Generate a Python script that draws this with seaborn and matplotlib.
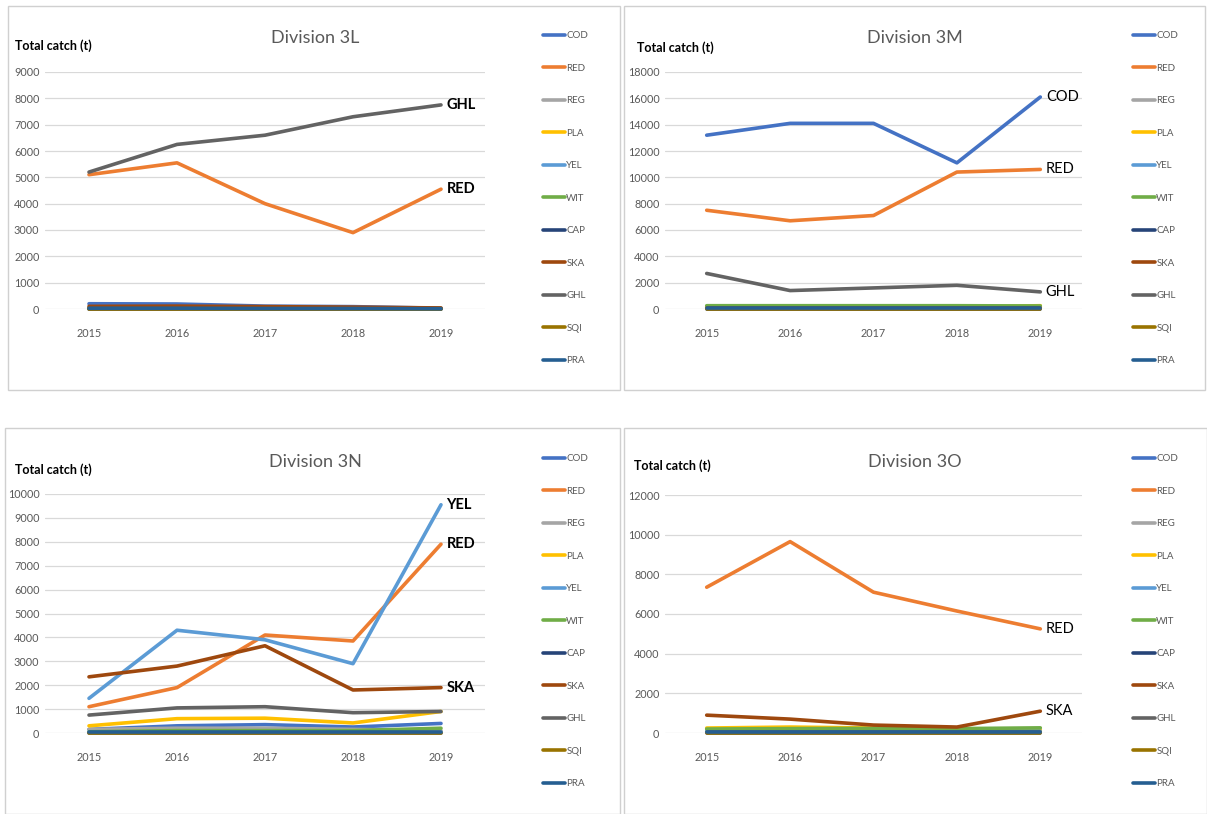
import numpy as np
import pandas as pd
import seaborn as sns
import matplotlib.pyplot as plt
from matplotlib.patches import Rectangle

# Years and species codes
years = [2015, 2016, 2017, 2018, 2019]
species = ['COD', 'RED', 'REG', 'PLA', 'YEL', 'WIT', 'CAP', 'SKA', 'GHL', 'SQI', 'PRA']
colors = ['#4472C4', '#ED7D31', '#A5A5A5', '#FFC000', '#5B9BD5', '#70AD47',
          '#264478', '#9E480E', '#636363', '#997300', '#255E91']

# Total catch (t) per division, rows follow species order
catch_3L = [
    [200, 190, 110, 90, 30],        # COD
    [5100, 5550, 4000, 2900, 4550],  # RED
    [20, 20, 15, 15, 10],           # REG
    [30, 30, 20, 20, 10],           # PLA
    [10, 10, 10, 10, 5],            # YEL
    [40, 40, 30, 30, 20],           # WIT
    [0, 0, 0, 0, 0],                # CAP
    [100, 110, 90, 70, 40],         # SKA
    [5200, 6250, 6600, 7300, 7750],  # GHL
    [0, 0, 0, 0, 0],                # SQI
    [30, 30, 20, 20, 10],           # PRA
]
catch_3M = [
    [13200, 14100, 14100, 11100, 16100],
    [7500, 6700, 7100, 10400, 10600],
    [100, 100, 100, 100, 150],
    [150, 150, 150, 150, 250],
    [10, 10, 10, 10, 10],
    [250, 250, 250, 250, 230],
    [0, 0, 0, 0, 0],
    [50, 50, 50, 50, 50],
    [2700, 1400, 1600, 1800, 1300],
    [0, 0, 0, 0, 0],
    [50, 50, 50, 50, 50],
]
catch_3N = [
    [150, 300, 350, 250, 400],
    [1100, 1900, 4100, 3850, 7900],
    [150, 200, 200, 150, 100],
    [300, 600, 620, 420, 900],
    [1450, 4300, 3900, 2900, 9550],
    [50, 100, 100, 100, 200],
    [0, 0, 0, 0, 0],
    [2350, 2800, 3650, 1800, 1900],
    [750, 1050, 1100, 850, 900],
    [0, 0, 0, 0, 0],
    [30, 30, 30, 30, 30],
]
catch_3O = [
    [60, 60, 50, 50, 50],
    [7350, 9650, 7100, 6150, 5250],
    [50, 50, 50, 50, 50],
    [250, 300, 250, 200, 150],
    [100, 100, 100, 100, 100],
    [200, 220, 230, 220, 260],
    [0, 0, 0, 0, 0],
    [900, 700, 400, 300, 1100],
    [50, 50, 50, 50, 50],
    [0, 0, 0, 0, 0],
    [30, 30, 30, 30, 30],
]

divisions = ['3L', '3M', '3N', '3O']
all_catch = [catch_3L, catch_3M, catch_3N, catch_3O]
y_max = [9000, 18000, 10000, 12000]
y_step = [1000, 2000, 1000, 2000]
end_labels = [['GHL', 'RED'], ['COD', 'RED', 'GHL'], ['YEL', 'RED', 'SKA'], ['RED', 'SKA']]

sns.set_style('white')
plt.rcParams['font.family'] = ['Lato', 'DejaVu Sans']

W, H = 1207, 814
fig = plt.figure(figsize=(W / 100, H / 100), dpi=100)

# panel frames (pixel boxes: x0, y0, x1, y1)
frames = [(8, 6, 620, 390), (624, 6, 1205, 390), (5, 428, 620, 814), (624, 428, 1207, 814)]
for x0, y0, x1, y1 in frames:
    fig.patches.append(Rectangle((x0 / W, 1 - y1 / H), (x1 - x0) / W, (y1 - y0) / H,
                                 transform=fig.transFigure, fill=False,
                                 edgecolor='#D0D0D0', linewidth=1))

# axes boxes in pixels: left, bottom(y of zero line), width, height
boxes = [(45, 309, 440, 237), (665, 309, 417, 237), (45, 733, 440, 239), (665, 733, 417, 238)]
title_pos = [(315, 38), (915, 38), (315, 462), (915, 462)]
ylabel_pos = [(15, 46), (637, 48), (15, 470), (634, 466)]
legend_pos = [(543, 31), (1133, 31), (543, 454), (1133, 454)]

palette = dict(zip(species, colors))

for i, div in enumerate(divisions):
    left, zero_y, w, h = boxes[i]
    ax = fig.add_axes([left / W, 1 - zero_y / H, w / W, h / H])
    df = pd.DataFrame(all_catch[i], index=species, columns=years)
    df = df.reset_index().melt(id_vars='index', var_name='year', value_name='catch')
    df = df.rename(columns={'index': 'species'})
    sns.lineplot(data=df, x='year', y='catch', hue='species', hue_order=species,
                 palette=palette, linewidth=2.6, ax=ax, clip_on=False)

    ax.set_xlim(2014.5, 2019.5)
    ax.set_ylim(0, y_max[i])
    ax.set_yticks(np.arange(0, y_max[i] + 1, y_step[i]))
    ax.set_xticks(years)
    ax.set_xlabel('')
    ax.set_ylabel('')
    ax.grid(axis='y', color='#D9D9D9', linewidth=0.9)
    ax.set_axisbelow(True)
    for s in ax.spines.values():
        s.set_visible(False)
    ax.tick_params(axis='both', length=0, labelsize=7.8, labelcolor='#595959')
    ax.tick_params(axis='x', pad=14)
    ax.tick_params(axis='y', pad=4)

    # labels at the end of the main series
    for code in end_labels[i]:
        val = all_catch[i][species.index(code)][-1]
        ax.annotate(code, (2019, val), xytext=(4, 0), textcoords='offset points',
                    ha='left', va='center', fontsize=10.5, color='black',
                    weight='bold' if i in (0, 2) else 'normal')

    tx, ty = title_pos[i]
    fig.text(tx / W, 1 - ty / H, 'Division ' + div, ha='center', va='center',
             fontsize=13, color='#595959')
    lx, ly = ylabel_pos[i]
    fig.text(lx / W, 1 - ly / H, 'Total catch (t)', ha='left', va='center',
             fontsize=9, weight='bold', color='black')

    gx, gy = legend_pos[i]
    sns.move_legend(ax, 'upper left', bbox_to_anchor=(gx / W, 1 - gy / H),
                    bbox_transform=fig.transFigure, frameon=False, title=None,
                    fontsize=7, labelspacing=2.42, handlelength=2.3,
                    handletextpad=0.1, borderpad=0, borderaxespad=0)
    for t in ax.get_legend().get_texts():
        t.set_color('#595959')

fig.savefig('out.png', dpi=100)
